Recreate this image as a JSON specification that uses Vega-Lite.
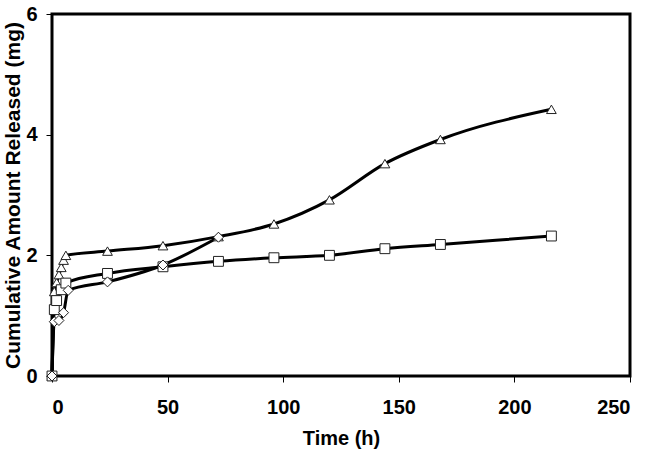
{
  "$schema": "https://vega.github.io/schema/vega-lite/v6.json",
  "autosize": "none",
  "width": 578,
  "height": 362,
  "padding": {"left": 52, "top": 14, "right": 21, "bottom": 92},
  "background": "white",
  "config": {
    "view": {"stroke": "black", "strokeWidth": 3},
    "axis": {
      "labelFont": "Liberation Sans", "labelFontWeight": "bold", "labelFontSize": 20, "labelColor": "black",
      "titleFont": "Liberation Sans", "titleFontWeight": "bold", "titleFontSize": 20, "titleColor": "black",
      "grid": false, "domain": false, "tickColor": "black", "tickSize": 6, "tickWidth": 1
    }
  },
  "data": {
    "values": [
      {"series": "A", "t": 0, "v": 0},
      {"series": "A", "t": 1, "v": 1.4},
      {"series": "A", "t": 2, "v": 1.55},
      {"series": "A", "t": 3, "v": 1.68},
      {"series": "A", "t": 4, "v": 1.8},
      {"series": "A", "t": 5, "v": 1.92},
      {"series": "A", "t": 6, "v": 2.0},
      {"series": "A", "t": 24, "v": 2.07},
      {"series": "A", "t": 48, "v": 2.16},
      {"series": "A", "t": 72, "v": 2.31},
      {"series": "A", "t": 96, "v": 2.52},
      {"series": "A", "t": 120, "v": 2.92},
      {"series": "A", "t": 144, "v": 3.52},
      {"series": "A", "t": 168, "v": 3.92},
      {"series": "A", "t": 216, "v": 4.42},
      {"series": "B", "t": 0, "v": 0},
      {"series": "B", "t": 1, "v": 1.1},
      {"series": "B", "t": 2, "v": 1.25},
      {"series": "B", "t": 4, "v": 1.43},
      {"series": "B", "t": 6, "v": 1.54},
      {"series": "B", "t": 24, "v": 1.7},
      {"series": "B", "t": 48, "v": 1.81},
      {"series": "B", "t": 72, "v": 1.9},
      {"series": "B", "t": 96, "v": 1.96},
      {"series": "B", "t": 120, "v": 2.0},
      {"series": "B", "t": 144, "v": 2.11},
      {"series": "B", "t": 168, "v": 2.18},
      {"series": "B", "t": 216, "v": 2.32},
      {"series": "C", "t": 0, "v": 0},
      {"series": "C", "t": 1, "v": 0.9},
      {"series": "C", "t": 3, "v": 0.92},
      {"series": "C", "t": 5, "v": 1.05},
      {"series": "C", "t": 7, "v": 1.42},
      {"series": "C", "t": 24, "v": 1.56},
      {"series": "C", "t": 48, "v": 1.84},
      {"series": "C", "t": 72, "v": 2.3}
    ]
  },
  "encoding": {
    "x": {"field": "t", "type": "quantitative", "scale": {"domain": [0, 250], "nice": false},
      "axis": {"values": [0, 50, 100, 150, 200, 250], "title": "Time (h)", "titlePadding": 11, "labelPadding": 15}},
    "y": {"field": "v", "type": "quantitative", "scale": {"domain": [0, 6], "nice": false},
      "axis": {"values": [0, 2, 4, 6], "title": "Cumulative Amount Released (mg)", "titleFontSize": 21, "titlePadding": 2, "labelPadding": 9}}
  },
  "layer": [
    {"mark": {"type": "line", "color": "black", "strokeWidth": 3, "interpolate": "monotone"},
      "encoding": {"detail": {"field": "series"}}},
    {"mark": {"type": "point", "filled": true, "fill": "white", "stroke": "#222", "strokeWidth": 1, "opacity": 1},
      "encoding": {
        "shape": {"field": "series", "type": "nominal", "scale": {"domain": ["A", "B", "C"], "range": ["triangle-up", "square", "diamond"]}, "legend": null},
        "size": {"field": "series", "type": "nominal", "scale": {"domain": ["A", "B", "C"], "range": [95, 100, 85]}, "legend": null}
      }}
  ]
}
